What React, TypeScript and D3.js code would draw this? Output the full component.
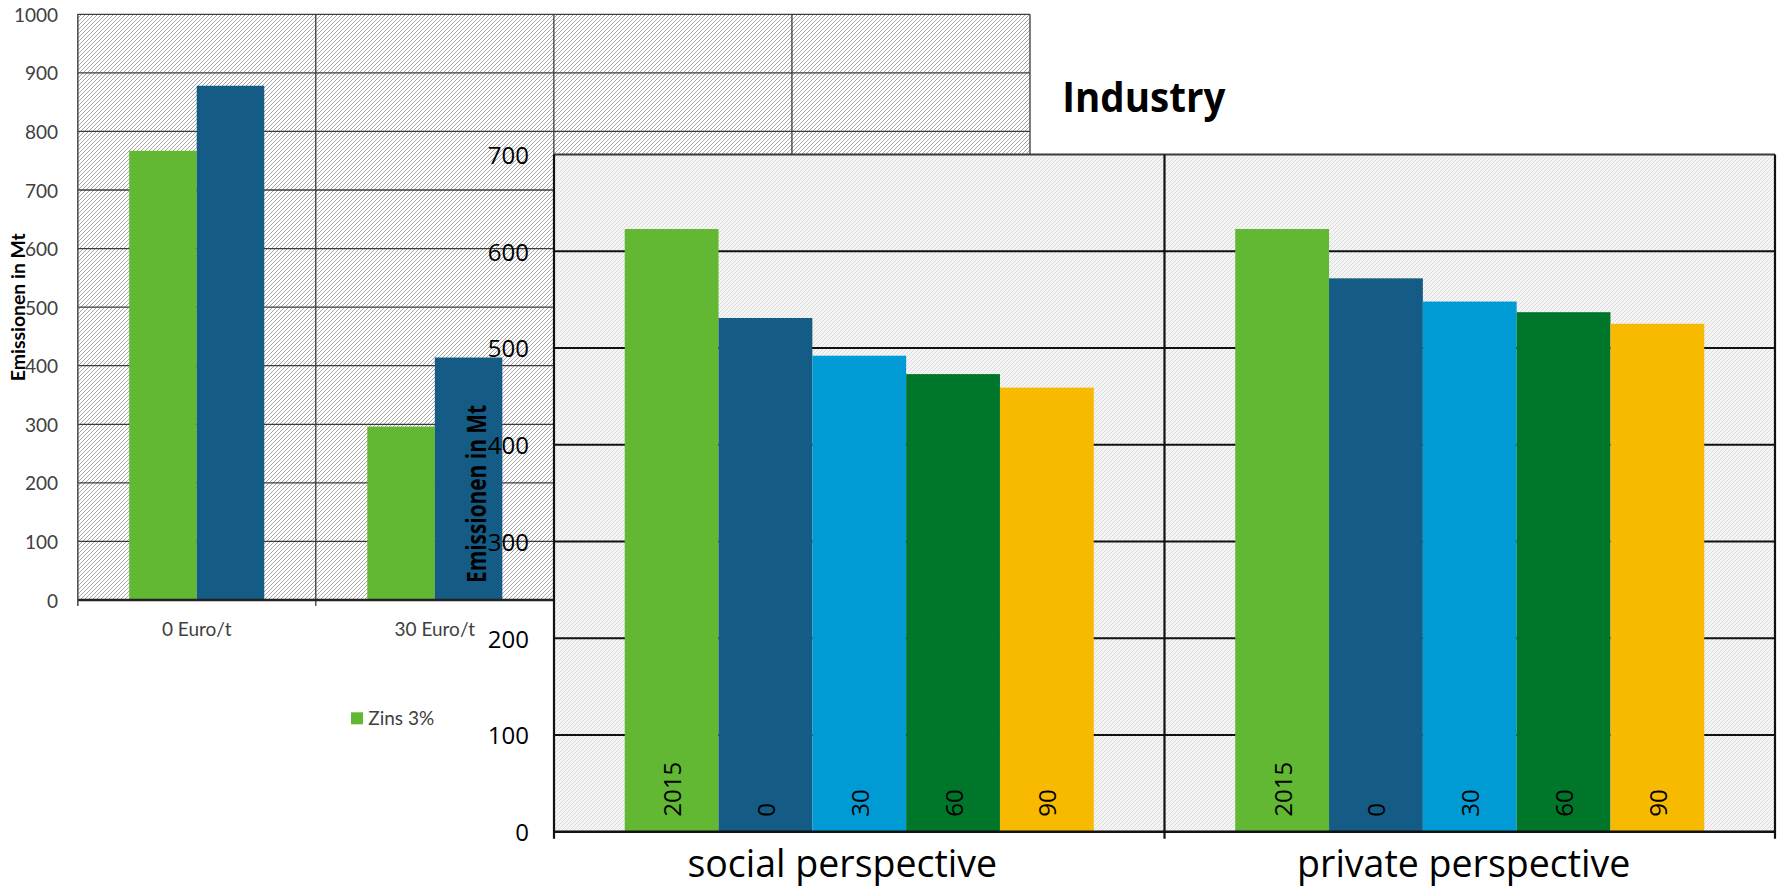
import React from "react";
import * as d3 from "d3";

// ---------- background chart data ----------
const bgCategories = ["0 Euro/t", "30 Euro/t", "60 Euro/t", "90 Euro/t"];
const bgSeriesKeys = ["Zins 3%", "second"];
const bgZins3: (number | null)[] = [767, 296, null, null];
const bgSecond: (number | null)[] = [878, 414, null, null];
const bgTicks = [0, 100, 200, 300, 400, 500, 600, 700, 800, 900, 1000];
const bgLegend = ["Zins 3%"];

// ---------- foreground chart data ----------
const fgTitle = "Industry";
const yTitle = "Emissionen in Mt";
const fgCategories = ["social perspective", "private perspective"];
const scenarios = ["2015", "0", "30", "60", "90"];
const socialValues = [623, 531, 492, 473, 459];
const privateValues = [623, 572, 548, 537, 525];
const fgTicks = [0, 100, 200, 300, 400, 500, 600, 700];

const scenarioColors = ["#62B832", "#145C85", "#009BD4", "#00762A", "#F8BA00"];
const bgColors = ["#62B832", "#145C85"];

const W = 1779;
const H = 887;

export default function App() {
  // background scales
  const bgX = d3.scaleBand<string>().domain(bgCategories).range([77.7, 1030]).paddingInner(0).paddingOuter(0);
  const bgSub = d3.scaleBand<string>().domain(bgSeriesKeys).range([0, bgX.bandwidth()]).paddingInner(0).paddingOuter(0.763);
  const bgY = d3.scaleLinear().domain([0, 1000]).range([600, 14.3]);
  const bgSeriesValues = [bgZins3, bgSecond];

  // foreground scales
  const fgX = d3.scaleBand<string>().domain(fgCategories).range([554, 1775]).paddingInner(0).paddingOuter(0);
  const fgSub = d3.scaleBand<string>().domain(scenarios).range([0, fgX.bandwidth()]).paddingInner(0).paddingOuter(0.754);
  const fgY = d3.scaleLinear().domain([0, 700]).range([831.7, 154.5]);
  const fgValues = [socialValues, privateValues];
  const fgLabelShift = [-17, -6];

  const bgLeft = bgX.range()[0];
  const bgRight = bgX.range()[1];
  const fgLeft = fgX.range()[0];
  const fgRight = fgX.range()[1];

  const bgBoundaries = bgCategories.map((c) => bgX(c)!).concat([bgRight]);
  const fgBoundaries = fgCategories.map((c) => fgX(c)!).concat([fgRight]);

  const bgFont = "Lato, 'Open Sans', sans-serif";
  const fgFont = "'Open Sans', 'Noto Sans', sans-serif";

  return (
    <svg
      width={W}
      height={H}
      style={{ position: "absolute", left: 0, top: 0, display: "block", background: "#fff" }}
    >
      <defs>
        <pattern id="hatchBg" patternUnits="userSpaceOnUse" width="4" height="4">
          <rect width="4" height="4" fill="#ffffff" />
          <path d="M-1,1 l2,-2 M0,4 l4,-4 M3,5 l2,-2" stroke="#8e8e8e" strokeWidth="0.8" />
        </pattern>
        <pattern id="hatchFg" patternUnits="userSpaceOnUse" width="4" height="4">
          <rect width="4" height="4" fill="#f5f5f5" />
          <path d="M-1,1 l2,-2 M0,4 l4,-4 M3,5 l2,-2" stroke="#dadada" strokeWidth="1" />
        </pattern>
      </defs>

      {/* ================= BACKGROUND CHART ================= */}
      <g>
        <rect x={bgLeft} y={bgY(1000)} width={bgRight - bgLeft} height={bgY(0) - bgY(1000)} fill="url(#hatchBg)" />
        {bgTicks.filter((t) => t > 0).map((t) => (
          <line key={"bgg" + t} x1={bgLeft} x2={bgRight} y1={bgY(t)} y2={bgY(t)} stroke="#3c3c3c" strokeWidth={1.3} />
        ))}
        {bgBoundaries.map((x, i) => (
          <line key={"bgv" + i} x1={x} x2={x} y1={bgY(1000)} y2={bgY(0) + 6} stroke="#3c3c3c" strokeWidth={1.3} />
        ))}
        {bgCategories.map((c, ci) =>
          bgSeriesKeys.map((s, si) => {
            const v = bgSeriesValues[si][ci];
            if (v == null) return null;
            return (
              <rect
                key={c + s}
                x={bgX(c)! + bgSub(s)!}
                y={bgY(v)}
                width={bgSub.bandwidth()}
                height={bgY(0) - bgY(v)}
                fill={bgColors[si]}
              />
            );
          })
        )}
        <line x1={bgLeft} x2={bgRight} y1={bgY(0)} y2={bgY(0)} stroke="#222" strokeWidth={2.4} />
        <line x1={bgLeft} x2={bgLeft} y1={bgY(1000)} y2={bgY(0) + 6} stroke="#555" strokeWidth={1.3} />
        {bgTicks.map((t) => (
          <text
            key={"bgt" + t}
            x={58}
            y={bgY(t)}
            textAnchor="end"
            dominantBaseline="central"
            fontFamily={bgFont}
            fontSize={19}
            fill="#404040"
          >
            {t}
          </text>
        ))}
        {bgCategories.map((c) => (
          <text
            key={"bgc" + c}
            x={bgX(c)! + bgX.bandwidth() / 2}
            y={635.5}
            textAnchor="middle"
            fontFamily={bgFont}
            fontSize={19}
            fill="#404040"
          >
            {c}
          </text>
        ))}
        <text
          transform={`translate(24.5, ${(bgY(0) + bgY(1000)) / 2}) rotate(-90)`}
          textAnchor="middle"
          fontFamily={bgFont}
          fontWeight="bold"
          fontSize={18}
          fill="#000"
          textLength={148}
          lengthAdjust="spacingAndGlyphs"
        >
          {yTitle}
        </text>
        {bgLegend.map((l, i) => (
          <g key={"leg" + l}>
            <rect x={351} y={712.3} width={12} height={12} fill={bgColors[i]} />
            <text x={368.3} y={725} fontFamily={bgFont} fontSize={19} fill="#404040">
              {l}
            </text>
          </g>
        ))}
      </g>

      {/* ================= FOREGROUND CHART ================= */}
      <g>
        <text
          x={1062.3}
          y={111.7}
          fontFamily={fgFont}
          fontWeight="bold"
          fontSize={42}
          fill="#000"
          textLength={163}
          lengthAdjust="spacingAndGlyphs"
        >
          {fgTitle}
        </text>
        <rect x={fgLeft} y={fgY(700)} width={fgRight - fgLeft} height={fgY(0) - fgY(700)} fill="url(#hatchFg)" />
        {fgTicks.filter((t) => t > 0 && t < 700).map((t) => (
          <line key={"fgg" + t} x1={fgLeft} x2={fgRight} y1={fgY(t)} y2={fgY(t)} stroke="#111" strokeWidth={2} />
        ))}
        <line x1={fgLeft} x2={fgRight} y1={fgY(700)} y2={fgY(700)} stroke="#3a3a3a" strokeWidth={2} />
        {fgCategories.map((c, ci) =>
          scenarios.map((s, si) => {
            const v = fgValues[ci][si];
            const x = fgX(c)! + fgSub(s)!;
            return (
              <g key={c + s}>
                <rect x={x} y={fgY(v)} width={fgSub.bandwidth()} height={fgY(0) - fgY(v)} fill={scenarioColors[si]} />
                <text
                  transform={`translate(${x + fgSub.bandwidth() / 2}, ${fgY(0) - 15}) rotate(-90)`}
                  textAnchor="start"
                  dominantBaseline="central"
                  fontFamily={fgFont}
                  fontSize={24}
                  fill="#000"
                >
                  {s}
                </text>
              </g>
            );
          })
        )}
        {fgBoundaries.map((x, i) => (
          <line
            key={"fgv" + i}
            x1={x}
            x2={x}
            y1={fgY(700)}
            y2={fgY(0) + 7}
            stroke="#111"
            strokeWidth={2.2}
          />
        ))}
        <line x1={fgLeft} x2={fgRight} y1={fgY(0)} y2={fgY(0)} stroke="#111" strokeWidth={2.4} />
        {fgTicks.map((t) => (
          <text
            key={"fgt" + t}
            x={529}
            y={fgY(t)}
            textAnchor="end"
            dominantBaseline="central"
            fontFamily={fgFont}
            fontSize={24}
            fill="#000"
          >
            {t}
          </text>
        ))}
        {fgCategories.map((c, ci) => (
          <text
            key={"fgc" + c}
            x={fgX(c)! + fgX.bandwidth() / 2}
            dx={fgLabelShift[ci]}
            y={877}
            textAnchor="middle"
            fontFamily={fgFont}
            fontSize={37.5}
            fill="#000"
          >
            {c}
          </text>
        ))}
        <text
          transform={`translate(485.7, 494) rotate(-90)`}
          textAnchor="middle"
          fontFamily={fgFont}
          fontWeight="bold"
          fontSize={26}
          fill="#000"
          textLength={178}
          lengthAdjust="spacingAndGlyphs"
        >
          {yTitle}
        </text>
      </g>
    </svg>
  );
}
